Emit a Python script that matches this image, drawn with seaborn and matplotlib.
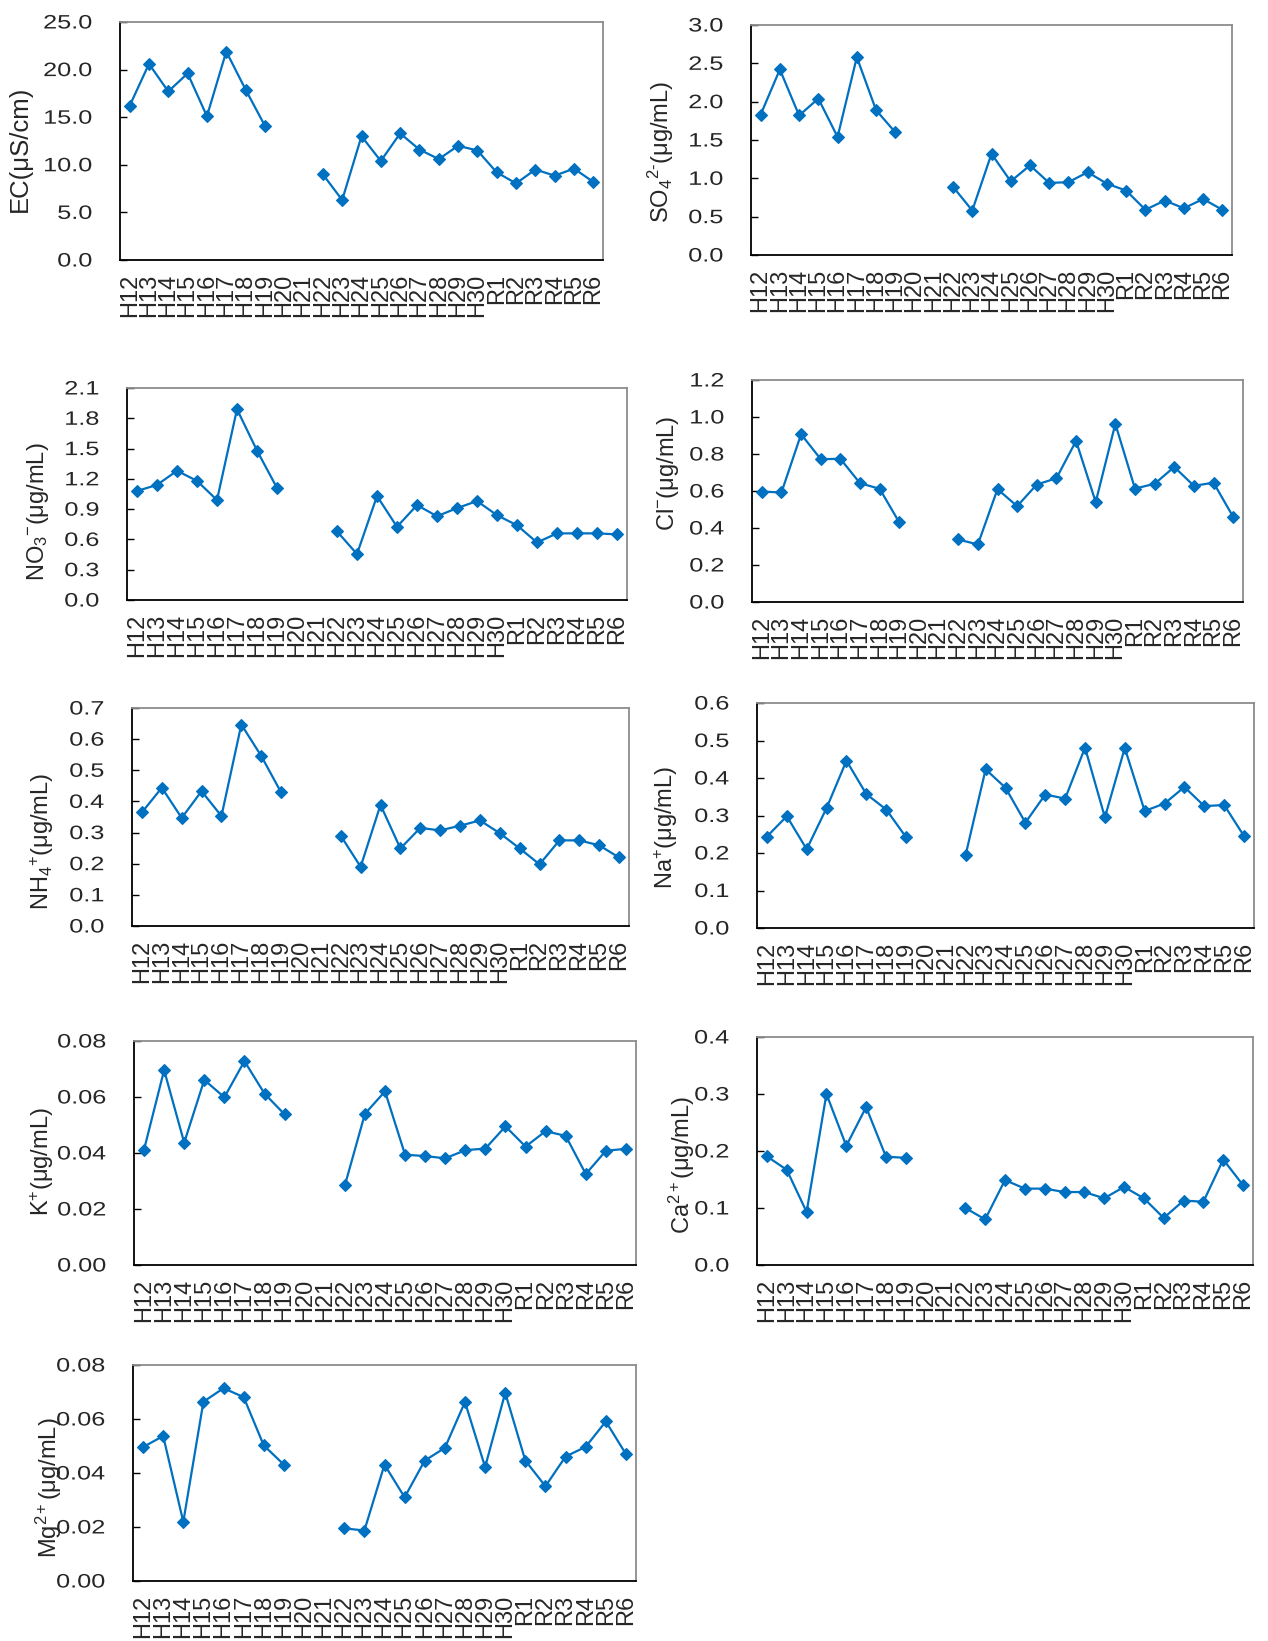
import numpy as np
import pandas as pd
import matplotlib
matplotlib.use("Agg")
import matplotlib.pyplot as plt
import seaborn as sns
from matplotlib.ticker import FixedLocator, FormatStrFormatter
from matplotlib.patheffects import AbstractPathEffect
from matplotlib.transforms import Affine2D

# ---------------- data ----------------
categories = ["H12", "H13", "H14", "H15", "H16", "H17", "H18", "H19", "H20", "H21",
              "H22", "H23", "H24", "H25", "H26", "H27", "H28", "H29", "H30",
              "R1", "R2", "R3", "R4", "R5", "R6"]

ec = [16.2, 20.6, 17.7, 19.6, 15.1, 21.9, 17.9, 14.1, None, None,
      9.0, 6.3, 13.0, 10.4, 13.3, 11.6, 10.6, 12.0, 11.5,
      9.2, 8.05, 9.5, 8.86, 9.6, 8.2]
so4 = [1.83, 2.42, 1.82, 2.04, 1.54, 2.58, 1.89, 1.60, None, None,
       0.89, 0.58, 1.32, 0.96, 1.17, 0.94, 0.95, 1.08, 0.93,
       0.84, 0.59, 0.71, 0.61, 0.73, 0.59]
no3 = [1.08, 1.14, 1.28, 1.18, 0.99, 1.89, 1.48, 1.11, None, None,
       0.68, 0.455, 1.03, 0.725, 0.94, 0.83, 0.91, 0.98, 0.84,
       0.74, 0.57, 0.66, 0.66, 0.66, 0.65]
cl = [0.597, 0.592, 0.907, 0.772, 0.774, 0.642, 0.612, 0.43, None, None,
      0.338, 0.311, 0.61, 0.518, 0.635, 0.669, 0.871, 0.54, 0.963,
      0.613, 0.639, 0.73, 0.628, 0.645, 0.46]
nh4 = [0.365, 0.444, 0.347, 0.433, 0.353, 0.647, 0.546, 0.429, None, None,
       0.29, 0.19, 0.389, 0.249, 0.315, 0.307, 0.322, 0.339, 0.298,
       0.249, 0.198, 0.275, 0.275, 0.259, 0.22]
na = [0.244, 0.298, 0.21, 0.32, 0.446, 0.357, 0.316, 0.242, None, None,
      0.196, 0.423, 0.374, 0.281, 0.356, 0.345, 0.481, 0.295, 0.48,
      0.312, 0.332, 0.376, 0.325, 0.328, 0.245]
k = [0.0412, 0.0696, 0.0437, 0.0661, 0.0599, 0.0728, 0.0612, 0.0538, None, None,
     0.0284, 0.054, 0.062, 0.0394, 0.0389, 0.0381, 0.041, 0.0416, 0.0495,
     0.0423, 0.0478, 0.0461, 0.0325, 0.0408, 0.0415]
ca = [0.1906, 0.167, 0.093, 0.30, 0.209, 0.277, 0.19, 0.188, None, None,
      0.10, 0.08, 0.149, 0.134, 0.134, 0.128, 0.128, 0.117, 0.137,
      0.117, 0.0825, 0.113, 0.111, 0.185, 0.14]
mg = [0.0496, 0.0537, 0.0219, 0.0664, 0.0714, 0.0681, 0.0502, 0.0431, None, None,
      0.0195, 0.0187, 0.0431, 0.031, 0.0446, 0.0493, 0.0663, 0.0422, 0.0697,
      0.0446, 0.0351, 0.0461, 0.0497, 0.0591, 0.047]

ylabels = ["EC(μS/cm)", r"SO$_4$$^{2\text{-}}$(μg/mL)", r"NO$_3$$^{-}$(μg/mL)",
           r"Cl$^{-}$(μg/mL)", r"NH$_4$$^{+}$(μg/mL)", r"Na$^{+}$(μg/mL)",
           r"K$^{+}$(μg/mL)", r"Ca$^{2+}$(μg/mL)", r"Mg$^{2+}$(μg/mL)"]
ymax = [25.0, 3.0, 2.1, 1.2, 0.7, 0.6, 0.08, 0.4, 0.08]
ystep = [5.0, 0.5, 0.3, 0.2, 0.1, 0.1, 0.02, 0.1, 0.02]
yfmt = ["%.1f", "%.1f", "%.1f", "%.1f", "%.1f", "%.1f", "%.2f", "%.1f", "%.2f"]
series = [ec, so4, no3, cl, nh4, na, k, ca, mg]

# ---------------- layout (pixels: x0, x1, ytop, ybottom, ylabel centre x, ylabel centre dy, ylabel size) ----------------
W, H = 1268, 1641
boxes = [
    (120, 603, 22, 260, 20, 8, 18.5),
    (751, 1232, 25, 255, 661, 12, 17),
    (127, 627, 388, 600, 38, 18, 17),
    (752, 1243, 380, 602, 668, -18, 17),
    (132, 629, 708, 926, 42, 24, 17),
    (757, 1254, 703, 928, 666, 12, 17),
    (134, 636, 1041, 1265, 42, 9, 17),
    (757, 1253, 1037, 1265, 682, 14, 17),
    (133, 636, 1365, 1581, 49, 15, 17),
]


class Stretch(AbstractPathEffect):
    """Widen glyph runs along x, keeping their right edge fixed."""
    def __init__(self, sx):
        super().__init__()
        self.sx = sx

    def draw_path(self, renderer, gc, tpath, affine, rgbFace=None):
        ext = tpath.get_extents(affine)
        x1 = ext.x1
        t = Affine2D().translate(-x1, 0).scale(self.sx, 1.0).translate(x1, 0)
        renderer.draw_path(gc, tpath, affine + t, rgbFace)


sns.set_style("white")
plt.rcParams["font.family"] = ["Liberation Sans", "DejaVu Sans"]
plt.rcParams["mathtext.fontset"] = "custom"
plt.rcParams["mathtext.rm"] = "Liberation Sans"
plt.rcParams["mathtext.it"] = "Liberation Sans:italic"
plt.rcParams["mathtext.bf"] = "Liberation Sans:bold"

BLUE = "#0070C0"
FS_X = 17
FS_Y = 14

fig = plt.figure(figsize=(W / 100, H / 100), dpi=100)
n = len(categories)
pos = np.arange(n)

for vals, lab, ym, st, fmt, (x0, x1, yt, yb, lx, dy, lfs) in zip(series, ylabels, ymax, ystep, yfmt, boxes):
    ax = fig.add_axes([x0 / W, 1 - yb / H, (x1 - x0) / W, (yb - yt) / H])
    v = pd.Series(vals, dtype=float)
    df = pd.DataFrame({"pos": pos, "value": v, "seg": v.isna().cumsum()}).dropna()
    sns.lineplot(data=df, x="pos", y="value", units="seg", estimator=None,
                 color=BLUE, marker="D", markersize=6.3, markeredgecolor=BLUE,
                 markeredgewidth=0.8, linewidth=1.6, ax=ax, legend=False)
    ax.set_xlim(-0.5, n - 0.5)
    ax.set_ylim(0, ym)
    ax.xaxis.set_major_locator(FixedLocator(pos))
    ax.set_xticklabels(categories, rotation=90, fontsize=FS_X)
    ax.xaxis.set_minor_locator(FixedLocator(np.arange(0.5, n - 0.5, 1.0)))
    ax.tick_params(axis="x", which="major", length=0, pad=10)
    ax.tick_params(axis="x", which="minor", direction="in", length=5, width=1.0, color="black")
    ax.yaxis.set_major_locator(FixedLocator(np.arange(0, ym + st / 2, st)))
    ax.yaxis.set_major_formatter(FormatStrFormatter(fmt))
    ax.tick_params(axis="y", which="major", direction="in", length=5, width=1.0,
                   color="black", pad=20, labelsize=FS_Y, left=True)
    for tk in ax.yaxis.get_major_ticks():
        tk.label1.set_path_effects([Stretch(1.3)])
    ax.set_xlabel("")
    ax.set_ylabel(lab, fontsize=lfs, va="center")
    yc = (yt + yb) / 2 + dy
    ax.yaxis.set_label_coords((lx - x0) / (x1 - x0), (yb - yc) / (yb - yt))
    for s in ["left", "bottom"]:
        ax.spines[s].set_color("black")
        ax.spines[s].set_linewidth(1.3)
    for s in ["top", "right"]:
        ax.spines[s].set_color("#8c8c8c")
        ax.spines[s].set_linewidth(1.3)
    ax.grid(False)

fig.savefig("out.png", dpi=100)
